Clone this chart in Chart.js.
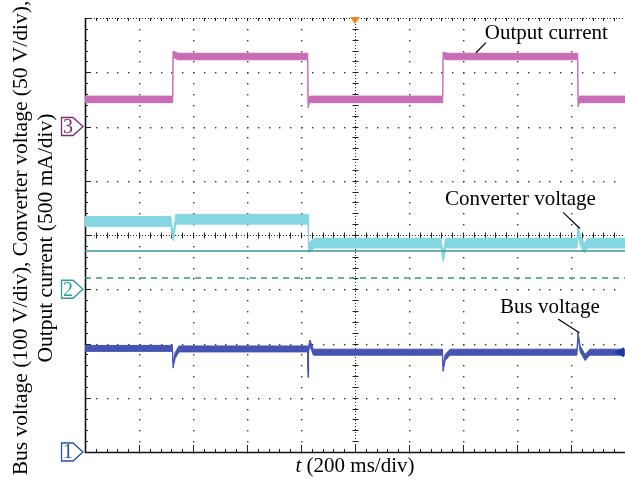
<!DOCTYPE html>
<html>
<head>
<meta charset="utf-8">
<script src="https://cdn.jsdelivr.net/npm/chart.js@4.4.1/dist/chart.umd.min.js"></script>
<style>
  html, body { margin: 0; padding: 0; background: #fff; }
  #wrap { width: 625px; height: 481px; position: relative; }
</style>
</head>
<body>
<div id="wrap"><canvas id="scope"></canvas></div>
<script>
// Time axis in ms (200 ms/div), vertical axis in screen divisions (0 = bottom, 8 = top)

// Output current (channel 3)
const curT = [0, 325, 326, 345, 825, 826, 832, 1325, 1326, 1345, 1825, 1826, 1832, 2000];
const curV = [6.50, 6.50, 7.33, 7.29, 7.29, 6.40, 6.50, 6.50, 7.31, 7.29, 7.29, 6.42, 6.50, 6.50];

// Converter voltage (channel 2)
const convT = [0, 318, 324, 328, 336, 826, 828, 836, 850, 1318, 1323, 1327, 1336, 1822, 1826, 1836, 1850, 1862, 2000];
const convV = [4.25, 4.25, 4.02, 3.98, 4.29, 4.29, 3.76, 3.80, 3.85, 3.85, 3.70, 3.60, 3.85, 3.85, 4.07, 3.88, 3.76, 3.85, 3.85];

// Bus voltage (channel 1)
const busT = [0, 324, 326, 334, 348, 824, 826, 828, 833, 846, 1324, 1326, 1334, 1352, 1822, 1826, 1834, 1852, 1870, 2000];
const busV = [1.91, 1.91, 1.60, 1.78, 1.90, 1.90, 1.43, 1.90, 2.01, 1.84, 1.84, 1.54, 1.74, 1.84, 1.84, 2.16, 1.90, 1.74, 1.84, 1.84];

// noise band half-width (div)
const curNoise = 0.06;
const convNoise = 0.09;
const busNoise = 0.055;

// reference lines of channel 2
const refT = [0, 2000];
const refSolidV = [3.705, 3.705];
const refDashedV = [3.207, 3.207];

// channel ground markers
const chLabels = ['1', '2', '3'];
const chLevels = [0, 3, 6];
const chColors = ['#2452b0', '#2a9e9b', '#7b2a78'];

// trace annotations: [text, textT, textV, lineFromT, lineFromV, lineToT, lineToV]
const notes = [
  ['Output current', 1481, 7.61, 1485, 7.545, 1448, 7.36],
  ['Converter voltage', 1333, 4.55, 1771, 4.418, 1833, 4.12],
  ['Bus voltage', 1537, 2.56, 1752, 2.45, 1831, 2.20]
];

const triggerT = 1000;

function pts(ts, vs, off) {
  return ts.map((t, i) => ({ x: t, y: vs[i] + off }));
}

function band(ts, vs, h, color) {
  return [
    { data: pts(ts, vs, h), borderColor: color, backgroundColor: color, borderWidth: 1, fill: false, pointRadius: 0, tension: 0 },
    { data: pts(ts, vs, -h), borderColor: color, backgroundColor: color, borderWidth: 1, fill: '-1', pointRadius: 0, tension: 0 }
  ];
}

const serif = '"Liberation Serif", "DejaVu Serif", serif';

const scopePlugin = {
  id: 'scope',
  beforeDatasetsDraw(chart) {
    const { ctx, chartArea: a, scales: { x, y } } = chart;
    const px = t => Math.round(x.getPixelForValue(t));
    const py = v => Math.round(y.getPixelForValue(v));
    ctx.save();

    // dotted grid
    ctx.fillStyle = '#333';
    for (let t = 200; t <= 2000; t += 200) {
      if (t === 1000) continue;
      for (let k = 0; k <= 40; k++) ctx.fillRect(px(t), py(k * 0.2), 1.4, 1.4);
    }
    for (let v = 1; v <= 7; v++) {
      if (v === 4) continue;
      for (let k = 0; k <= 50; k++) ctx.fillRect(px(k * 40), py(v), 1.4, 1.4);
    }

    // center cross and top edge, dense dots
    ctx.strokeStyle = '#222';
    ctx.lineWidth = 1;
    ctx.setLineDash([1, 2]);
    const cx = px(triggerT) + 0.5, cy = py(4) + 0.5;
    ctx.beginPath();
    ctx.moveTo(a.left, cy); ctx.lineTo(a.right, cy);
    ctx.moveTo(cx, a.top); ctx.lineTo(cx, a.bottom);
    ctx.moveTo(a.left, a.top + 0.5); ctx.lineTo(a.right, a.top + 0.5);
    ctx.stroke();
    ctx.setLineDash([]);

    // ticks
    ctx.beginPath();
    for (let k = 0; k <= 50; k++) {
      const p = px(k * 40) + 0.5;
      const major = k % 5 === 0;
      ctx.moveTo(p, cy - 3); ctx.lineTo(p, cy + 3);
      ctx.moveTo(p, a.top); ctx.lineTo(p, a.top + 3);
      ctx.moveTo(p, a.bottom); ctx.lineTo(p, a.bottom - (major ? 7 : 3));
    }
    for (let k = 0; k <= 40; k++) {
      const p = py(k * 0.2) + 0.5;
      const major = k % 5 === 0;
      ctx.moveTo(cx - 3, p); ctx.lineTo(cx + 3, p);
      ctx.moveTo(a.left, p); ctx.lineTo(a.left + (major ? 6 : 3), p);
    }
    ctx.strokeStyle = '#222';
    ctx.lineWidth = 1;
    ctx.stroke();

    // solid left and bottom axes
    ctx.beginPath();
    ctx.moveTo(a.left + 0.5, a.top); ctx.lineTo(a.left + 0.5, a.bottom + 1);
    ctx.moveTo(a.left, a.bottom + 0.5); ctx.lineTo(a.right, a.bottom + 0.5);
    ctx.lineWidth = 1.6;
    ctx.strokeStyle = '#111';
    ctx.stroke();
    ctx.restore();
  },
  afterDatasetsDraw(chart) {
    const { ctx, chartArea: a, scales: { x, y } } = chart;
    ctx.save();

    // trigger marker
    const tx = x.getPixelForValue(triggerT);
    ctx.fillStyle = '#f58220';
    ctx.beginPath();
    ctx.moveTo(tx - 5, a.top - 1); ctx.lineTo(tx + 5, a.top - 1); ctx.lineTo(tx, a.top + 6);
    ctx.closePath();
    ctx.fill();

    // bus trace end arrow
    const by = y.getPixelForValue(busV[busV.length - 1]);
    ctx.fillStyle = '#1c3a9a';
    ctx.beginPath();
    ctx.moveTo(a.right - 11, by); ctx.lineTo(a.right - 1, by - 5); ctx.lineTo(a.right - 1, by + 5);
    ctx.closePath();
    ctx.fill();

    // channel ground markers
    chLevels.forEach((lv, i) => {
      const cy = y.getPixelForValue(lv);
      const tip = a.left - 2;
      ctx.beginPath();
      ctx.moveTo(61.5, cy - 9); ctx.lineTo(tip - 10, cy - 9); ctx.lineTo(tip, cy);
      ctx.lineTo(tip - 10, cy + 9); ctx.lineTo(61.5, cy + 9);
      ctx.closePath();
      ctx.fillStyle = '#fff';
      ctx.fill();
      ctx.strokeStyle = chColors[i];
      ctx.lineWidth = 1.3;
      ctx.stroke();
      ctx.fillStyle = chColors[i];
      ctx.font = '20px ' + serif;
      ctx.textAlign = 'center';
      ctx.textBaseline = 'middle';
      ctx.fillText(chLabels[i], 68, cy + 1);
    });

    // annotations (white box behind the text hides grid dots)
    ctx.font = '21px ' + serif;
    ctx.textAlign = 'left';
    ctx.textBaseline = 'alphabetic';
    ctx.strokeStyle = '#000';
    ctx.lineWidth = 1.2;
    notes.forEach(n => {
      const lx = x.getPixelForValue(n[1]), ly = y.getPixelForValue(n[2]);
      const w = ctx.measureText(n[0]).width;
      ctx.fillStyle = '#fff';
      ctx.fillRect(lx - 1, ly - 15, w + 2, 19);
      ctx.fillStyle = '#000';
      ctx.fillText(n[0], lx, ly);
      ctx.beginPath();
      ctx.moveTo(x.getPixelForValue(n[3]), y.getPixelForValue(n[4]));
      ctx.lineTo(x.getPixelForValue(n[5]), y.getPixelForValue(n[6]));
      ctx.stroke();
    });

    // x axis title
    const tPart = 't', rest = ' (200 ms/div)';
    ctx.font = 'italic 21px ' + serif;
    const w1 = ctx.measureText(tPart).width;
    ctx.font = '21px ' + serif;
    const w2 = ctx.measureText(rest).width;
    const sx = (a.left + a.right) / 2 - (w1 + w2) / 2;
    ctx.font = 'italic 21px ' + serif;
    ctx.fillText(tPart, sx, 472);
    ctx.font = '21px ' + serif;
    ctx.fillText(rest, sx + w1, 472);

    // y axis title
    ctx.font = '21.5px ' + serif;
    ctx.translate(21, 238);
    ctx.rotate(-Math.PI / 2);
    ctx.textAlign = 'center';
    ctx.textBaseline = 'middle';
    ctx.fillText('Bus voltage (100 V/div), Converter voltage (50 V/div),', 0, 0);
    ctx.fillText('Output current (500 mA/div)', 0, 25);
    ctx.restore();
  }
};

new Chart(document.getElementById('scope'), {
  type: 'line',
  data: {
    datasets: [
      { data: pts(refT, refSolidV, 0), borderColor: '#3a9693', borderWidth: 1.5, pointRadius: 0, fill: false },
      { data: pts(refT, refDashedV, 0), borderColor: '#3a9693', borderWidth: 1.3, borderDash: [6, 5], pointRadius: 0, fill: false },
      ...band(curT, curV, curNoise, '#c96cb7'),
      ...band(convT, convV, convNoise, '#84d7e2'),
      ...band(busT, busV, busNoise, '#4553b3')
    ]
  },
  options: {
    responsive: true,
    maintainAspectRatio: false,
    animation: false,
    events: [],
    layout: { padding: { left: 85, top: 18, right: 0, bottom: 29 } },
    plugins: { legend: { display: false }, tooltip: { enabled: false } },
    scales: {
      x: {
        type: 'linear', min: 0, max: 2000,
        ticks: { display: false }, grid: { display: false }, border: { display: false },
        afterFit: s => { s.height = 0; }
      },
      y: {
        min: 0, max: 8,
        ticks: { display: false }, grid: { display: false }, border: { display: false },
        afterFit: s => { s.width = 0; }
      }
    }
  },
  plugins: [scopePlugin]
});
</script>
</body>
</html>
